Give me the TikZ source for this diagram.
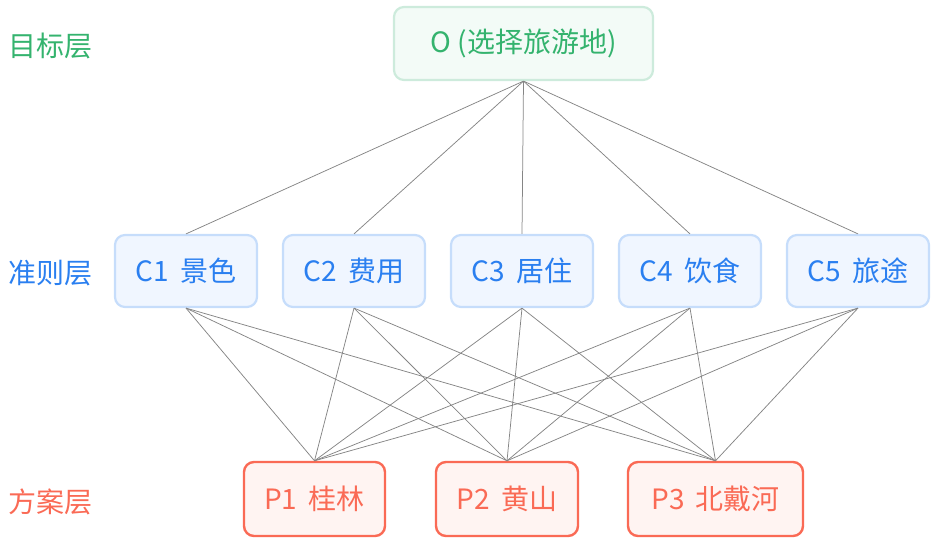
\documentclass[tikz,border=0pt]{standalone}
\usepackage{fontspec}
\setmainfont{Noto Sans CJK SC}
\definecolor{gtext}{HTML}{34B36E}
\definecolor{gline}{HTML}{CDEBDC}
\definecolor{gfill}{HTML}{F3FBF7}
\definecolor{btext}{HTML}{2A7FF0}
\definecolor{bline}{HTML}{C6DDFB}
\definecolor{bfill}{HTML}{F0F6FF}
\definecolor{rtext}{HTML}{FA6A55}
\definecolor{rline}{HTML}{FA6A55}
\definecolor{rfill}{HTML}{FFF4F2}
\definecolor{conn}{HTML}{858585}
\newcommand{\gap}{\hspace{0.4em}}
\tikzset{
  box/.style={rounded corners=10pt, inner sep=0pt, font=\fontsize{28}{32}\selectfont},
  gbox/.style={box, draw=gline, line width=2.2pt, fill=gfill, text=gtext, minimum width=259pt, minimum height=73pt},
  bbox/.style={box, draw=bline, line width=2.2pt, fill=bfill, text=btext, minimum width=142pt, minimum height=72pt},
  rbox/.style={box, draw=rline, line width=2.4pt, fill=rfill, text=rtext, minimum height=74pt},
  lab/.style={anchor=west, inner sep=0pt, font=\fontsize{28}{32}\selectfont},
  link/.style={draw=conn, line width=0.75pt}
}
\begin{document}
\begin{tikzpicture}[x=1pt,y=-1pt]
\useasboundingbox (0,0) rectangle (936,543);
\node[gbox] (O) at (523.5,43.5) {O (选择旅游地)};
\node[bbox] (C1) at (186,271) {C1\gap{}景色};
\node[bbox] (C2) at (354,271) {C2\gap{}费用};
\node[bbox] (C3) at (522,271) {C3\gap{}居住};
\node[bbox] (C4) at (690,271) {C4\gap{}饮食};
\node[bbox] (C5) at (858,271) {C5\gap{}旅途};
\node[rbox, minimum width=141pt] (P1) at (314.5,499) {P1\gap{}桂林};
\node[rbox, minimum width=142pt] (P2) at (507,499) {P2\gap{}黄山};
\node[rbox, minimum width=175pt] (P3) at (715.5,499) {P3\gap{}北戴河};
\node[lab, text=gtext] (L1) at (8,46) {目标层};
\node[lab, text=btext] (L2) at (8,273) {准则层};
\node[lab, text=rtext] (L3) at (8,502) {方案层};
\foreach \c in {C1,C2,C3,C4,C5}{
  \draw[link] (O.south) -- (\c.north);
  \foreach \p in {P1,P2,P3}{
    \draw[link] (\c.south) -- (\p.north);
  }
}
\end{tikzpicture}
\end{document}
